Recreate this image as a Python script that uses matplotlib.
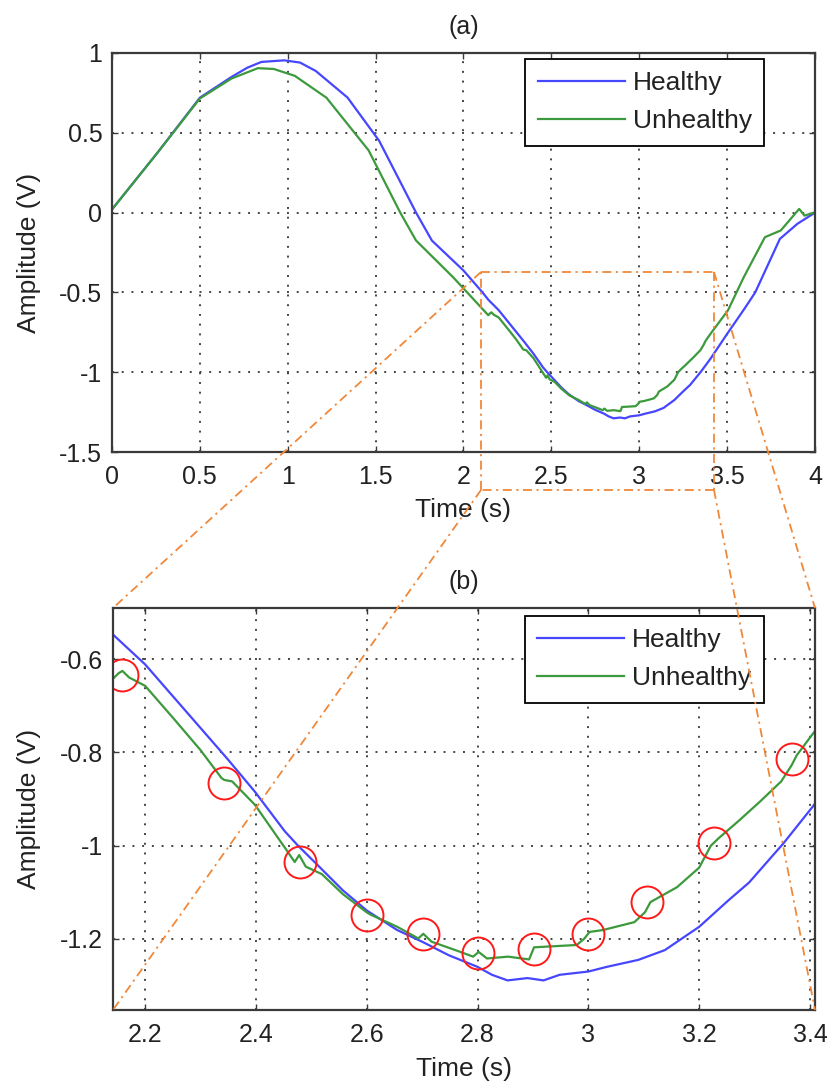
import matplotlib
matplotlib.use("Agg")
import matplotlib.pyplot as plt
from matplotlib.lines import Line2D

# ---------------- data ----------------
healthy_t = [0.00, 0.26, 0.50, 0.68, 0.77, 0.85, 0.98, 1.07, 1.16, 1.34, 1.52, 1.73,
             1.82, 2.00, 2.108, 2.142, 2.200, 2.348, 2.398, 2.452, 2.476, 2.510, 2.557,
             2.600, 2.655, 2.700, 2.748, 2.800, 2.826, 2.854, 2.890, 2.919, 2.948, 3.000,
             3.033, 3.090, 3.138, 3.200, 3.252, 3.290, 3.352, 3.405, 3.500, 3.600, 3.660,
             3.800, 3.900, 4.000]
healthy_v = [0.02, 0.377, 0.72, 0.85, 0.908, 0.944, 0.954, 0.94, 0.887, 0.721, 0.45, 0.0,
             -0.175, -0.363, -0.50, -0.547, -0.611, -0.813, -0.884, -0.969, -1.0, -1.04, -1.096,
             -1.139, -1.181, -1.206, -1.235, -1.26, -1.277, -1.289, -1.284, -1.289, -1.277, -1.27,
             -1.26, -1.245, -1.224, -1.174, -1.118, -1.079, -0.995, -0.916, -0.76, -0.60, -0.50,
             -0.165, -0.07, 0.0]

unhealthy_t = [0.00, 0.26, 0.50, 0.68, 0.83, 0.92, 1.04, 1.22, 1.46, 1.64, 1.73, 1.94,
               2.141, 2.152, 2.159, 2.171, 2.200, 2.252, 2.300, 2.338, 2.343, 2.357, 2.398,
               2.452, 2.470, 2.478, 2.490, 2.519, 2.557, 2.600, 2.607, 2.655, 2.693, 2.702,
               2.717, 2.760, 2.792, 2.802, 2.817, 2.855, 2.893, 2.902, 2.979, 2.993, 3.002,
               3.026, 3.083, 3.102, 3.112, 3.160, 3.200, 3.221, 3.236, 3.271, 3.310, 3.348,
               3.367, 3.376, 3.405, 3.505, 3.595, 3.715, 3.805, 3.910, 3.940, 4.000]
unhealthy_v = [0.02, 0.377, 0.715, 0.84, 0.905, 0.90, 0.857, 0.72, 0.39, 0.0, -0.175, -0.404,
               -0.643, -0.630, -0.625, -0.639, -0.657, -0.728, -0.795, -0.855, -0.859, -0.862, -0.912,
               -1.004, -1.035, -1.020, -1.045, -1.061, -1.104, -1.143, -1.148, -1.174, -1.199, -1.189,
               -1.206, -1.224, -1.238, -1.228, -1.242, -1.238, -1.244, -1.218, -1.213, -1.199, -1.185,
               -1.181, -1.164, -1.143, -1.121, -1.089, -1.047, -1.000, -0.983, -0.947, -0.905, -0.862,
               -0.827, -0.806, -0.760, -0.612, -0.404, -0.154, -0.112, 0.023, -0.019, 0.002]

circle_t = [2.159, 2.343, 2.479, 2.600, 2.702, 2.800, 2.902, 3.000, 3.105, 3.226, 3.367]
circle_v = [-0.634, -0.866, -1.036, -1.148, -1.190, -1.231, -1.222, -1.189, -1.121, -0.994, -0.813]

series_names = ["Healthy", "Unhealthy"]
titles = ["(a)", "(b)"]
xlabel = "Time (s)"
ylabel = "Amplitude (V)"

a_xticks = [0, 0.5, 1, 1.5, 2, 2.5, 3, 3.5, 4]
a_xticklabels = ["0", "0.5", "1", "1.5", "2", "2.5", "3", "3.5", "4"]
a_yticks = [-1.5, -1, -0.5, 0, 0.5, 1]
a_yticklabels = ["-1.5", "-1", "-0.5", "0", "0.5", "1"]
b_xticks = [2.2, 2.4, 2.6, 2.8, 3.0, 3.2, 3.4]
b_xticklabels = ["2.2", "2.4", "2.6", "2.8", "3", "3.2", "3.4"]
b_yticks = [-1.2, -1.0, -0.8, -0.6]
b_yticklabels = ["-1.2", "-1", "-0.8", "-0.6"]

# ---------------- style ----------------
plt.rcParams['font.family'] = ['Liberation Sans', 'DejaVu Sans']
plt.rcParams['axes.unicode_minus'] = False

W, H = 828, 1088
BLUE = '#4646ff'
GREEN = '#3c9a3c'
ORANGE = '#f0883a'
SPINE = '#3a3a3a'
TEXT = '#222222'
TICK_FS = 18
LAB_FS = 19

fig = plt.figure(figsize=(W / 100, H / 100), dpi=100)


def px_rect(l, t, r, b):
    return [l / W, 1 - b / H, (r - l) / W, (b - t) / H]


ax1 = fig.add_axes(px_rect(112, 53, 815, 452))
ax2 = fig.add_axes(px_rect(113, 608, 815, 1010))


def style(ax, xt, xtl, yt, ytl, xlim, ylim, title, legend_anchor, xlab_y, ylab_x):
    ax.plot(healthy_t, healthy_v, color=BLUE, lw=1.6, label=series_names[0])
    ax.plot(unhealthy_t, unhealthy_v, color=GREEN, lw=1.6, label=series_names[1])
    ax.set_xlim(*xlim)
    ax.set_ylim(*ylim)
    ax.set_xticks(xt)
    ax.set_xticklabels(xtl)
    ax.set_yticks(yt)
    ax.set_yticklabels(ytl)
    ax.grid(True, linestyle=(0, (1, 4)), color='#444444', lw=1.4)
    ax.tick_params(direction='in', length=4, width=1, colors=SPINE, labelcolor=TEXT,
                   labelsize=TICK_FS, top=True, right=True)
    ax.tick_params(axis='x', pad=9)
    ax.tick_params(axis='y', pad=7)
    for s in ax.spines.values():
        s.set_color(SPINE)
        s.set_linewidth(1.6)
    ax.set_title(title, fontsize=LAB_FS - 1, pad=14, color=TEXT)
    ax.set_xlabel(xlabel, fontsize=LAB_FS, color=TEXT)
    ax.set_ylabel(ylabel, fontsize=LAB_FS, color=TEXT)
    ax.xaxis.set_label_coords(0.5, xlab_y)
    ax.yaxis.set_label_coords(ylab_x, 0.5)
    leg = ax.legend(loc='upper right', bbox_to_anchor=legend_anchor, borderaxespad=0,
                    fontsize=LAB_FS, handlelength=3.3, handletextpad=0.3, labelspacing=0.53,
                    borderpad=0.47, fancybox=False, framealpha=1, edgecolor='black')
    leg.get_frame().set_linewidth(1.3)
    for txt in leg.get_texts():
        txt.set_color(TEXT)


style(ax1, a_xticks, a_xticklabels, a_yticks, a_yticklabels, (0, 4), (-1.5, 1), titles[0],
      (0.9275, 0.985), -0.115, -0.101)
style(ax2, b_xticks, b_xticklabels, b_yticks, b_yticklabels, (2.142, 3.409), (-1.3525, -0.49),
      titles[1], (0.927, 0.98), -0.118, -0.103)

ax2.plot(circle_t, circle_v, linestyle='none', marker='o', ms=23, mfc='none', mec='#ff1a1a',
         mew=1.4)

# ---------------- zoom annotation (figure pixel geometry) ----------------
box_l, box_r, box_t, box_b = 481, 714, 272, 490
b_pos = ax2.get_position()
bl, br = b_pos.x0 * W, b_pos.x1 * W
bt, bb = (1 - b_pos.y1) * H, (1 - b_pos.y0) * H
segments = [
    ((box_l, box_t), (box_r, box_t)),
    ((box_r, box_t), (box_r, box_b)),
    ((box_r, box_b), (box_l, box_b)),
    ((box_l, box_b), (box_l, box_t)),
    ((box_l, box_t), (bl, bt)),
    ((box_l, box_b), (bl, bb)),
    ((box_r, box_t), (br, bt)),
    ((box_r, box_b), (br, bb)),
]
for (x0, y0), (x1, y1) in segments:
    fig.add_artist(Line2D([x0 / W, x1 / W], [1 - y0 / H, 1 - y1 / H], transform=fig.transFigure,
                          color=ORANGE, lw=1.3, linestyle=(0, (5, 2.5, 1.2, 2.5)), zorder=10))

fig.savefig('out.png', dpi=100)
